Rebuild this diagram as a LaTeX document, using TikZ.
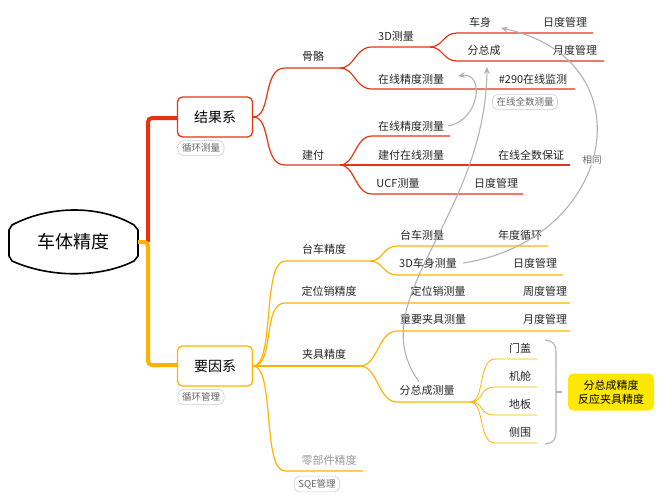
\documentclass[tikz,border=0pt]{standalone}
\usepackage{fontspec}
\setmainfont{Noto Sans CJK SC}
\usetikzlibrary{arrows.meta}
\begin{document}
\begin{tikzpicture}[x=1pt,y=-1pt,
  txt/.style={font=\fontsize{11}{12}\selectfont,text=black!85,inner sep=0pt},
  tag/.style={font=\fontsize{9.5}{10}\selectfont,text=black!60,draw=black!20,line width=0.6pt,rounded corners=5pt,inner xsep=4pt,inner ysep=3pt,fill=white},
  gl/.style={draw=black!30,line width=1.1pt},
  arr/.style={gl,-{Stealth[length=7pt,width=6pt]}}]
\useasboundingbox (0,0) rectangle (668,498);
\definecolor{rr}{HTML}{E63312}\definecolor{oo}{HTML}{FFB300}
\tikzset{rl/.style={draw=rr,line width=1.2pt},ol/.style={draw=oo,line width=1.2pt}}
% root
\draw[line width=1.6pt] (12,225) .. controls (50,205) and (100,205) .. (134,225) -- (138,230) -- (138,256) -- (134,261) .. controls (100,278) and (50,278) .. (12,261) -- (9,256) -- (9,230) -- cycle;
\node[font=\fontsize{18}{20}\selectfont] (root) at (73,242) {车体精度};
% trunk
\draw[rr,line width=4pt,rounded corners=4pt] (148,242) -- (148,118) -- (178,118);
\draw[oo,line width=4pt,rounded corners=4pt] (138,242) -- (148,242) -- (148,365) -- (178,365);
\node[draw=rr,line width=1.3pt,rounded corners=5pt,minimum width=75pt,minimum height=40pt,fill=white,font=\fontsize{14}{16}\selectfont] (jg) at (215,117) {结果系};
\node[tag] at (201,148) {循环测量};
\node[draw=oo,line width=1.3pt,rounded corners=5pt,minimum width=75pt,minimum height=40pt,fill=white,font=\fontsize{14}{16}\selectfont] (yy) at (215,366) {要因系};
\node[tag] at (201,397) {循环管理};
% red branches
\draw[rl] (jg.east) .. controls (272,117) and (262,68) .. (285,68) -- (340,68);
\draw[rl] (jg.east) .. controls (272,117) and (262,165) .. (285,165) -- (340,165);
\node[txt] (gg) at (313,56) {骨骼};
\node[txt] (jf) at (313,155) {建付};
\draw[rl] (340,68) .. controls (355,68) and (355,47) .. (372,47) -- (430,47);
\draw[rl] (340,68) .. controls (355,68) and (355,89) .. (372,89) -- (575,89);
\draw[rl] (430,47) .. controls (443,47) and (443,33) .. (457,33) -- (593,33);
\draw[rl] (430,47) .. controls (443,47) and (443,61) .. (457,61) -- (604,61);
\node[txt] at (396,36) {3D测量};
\node[txt] (cs) at (480,22) {车身};
\node[txt] at (565,22) {日度管理};
\node[txt] (fzc) at (484,50) {分总成};
\node[txt] at (575,50) {月度管理};
\node[txt] (zx1) at (411,79) {在线精度测量};
\node[txt] at (533,79) {\#290在线监测};
\node[tag] at (525,102) {在线全数测量};
\draw[rl] (340,165) .. controls (355,165) and (355,136) .. (372,136) -- (450,136);
\draw[rl] (340,165) -- (570,165);
\draw[rl] (340,165) .. controls (355,165) and (355,194) .. (372,194) -- (523,194);
\node[txt] (zx2) at (411,126) {在线精度测量};
\node[txt] at (411,155) {建付在线测量};
\node[txt] at (531,155) {在线全数保证};
\node[txt] at (398,183) {UCF测量};
\node[txt] at (496,183) {日度管理};
% orange branches
\draw[ol] (yy.east) .. controls (275,366) and (262,261) .. (285,261) -- (370,261);
\draw[ol] (yy.east) .. controls (275,366) and (262,303) .. (285,303) -- (570,303);
\draw[ol] (yy.east) -- (360,366);
\draw[ol] (yy.east) .. controls (275,366) and (262,471) .. (285,471) -- (363,471);
\node[txt] at (324,249) {台车精度};
\node[txt] at (329,291) {定位销精度};
\node[txt] at (324,354) {夹具精度};
\node[txt,text=black!40] at (329,460) {零部件精度};
\node[tag] at (317,484) {SQE管理};
\draw[ol] (370,261) .. controls (383,261) and (383,246) .. (397,246) -- (548,246);
\draw[ol] (370,261) .. controls (383,261) and (383,275) .. (397,275) -- (563,275);
\node[txt] at (422,235) {台车测量};
\node[txt] at (520,235) {年度循环};
\node[txt] (cs3d) at (428,263) {3D车身测量};
\node[txt] at (535,263) {日度管理};
\node[txt] at (438,291) {定位销测量};
\node[txt] at (545,291) {周度管理};
\draw[ol] (360,366) .. controls (378,366) and (378,331) .. (397,331) -- (570,331);
\draw[ol] (360,366) .. controls (378,366) and (378,402) .. (397,402) -- (470,402);
\node[txt] at (433,319) {重要夹具测量};
\node[txt] at (545,319) {月度管理};
\node[txt] (fzcl) at (427,390) {分总成测量};
\foreach \y/\t in {359/门盖,387/机舱,415/地板,443/侧围}{
  \draw[ol,line width=0.8pt] (470,402) .. controls (485,402) and (478,\y) .. (495,\y) -- (537,\y);
  \node[txt] at (520,\y-11) {\t};
}
% brace and note
\draw[gl] (545,340) .. controls (553,341) and (556,344) .. (556,352) -- (556,432) .. controls (556,440) and (553,443) .. (545,444);
\draw[gl] (556,392) -- (562,392);
\node[fill=yellow!90!orange,rounded corners=5pt,minimum width=86pt,minimum height=37pt,align=center,font=\fontsize{11}{14}\selectfont] (note) at (611,392) {分总成精度\\反应夹具精度};
% gray cross links
\draw[arr] ([xshift=4pt]zx2.east) .. controls (480,120) and (485,72) .. (458,76);
\draw[arr] ([xshift=-8pt,yshift=3pt]fzcl.north) .. controls (360,300) and (485,220) .. (487,67);
\draw[arr] ([xshift=6pt]cs3d.east) .. controls (615,240) and (650,60) .. (501,28);
\node[font=\fontsize{9.5}{10}\selectfont,text=black!60,fill=white,inner sep=1pt] at (592,160) {相同};
\end{tikzpicture}
\end{document}
